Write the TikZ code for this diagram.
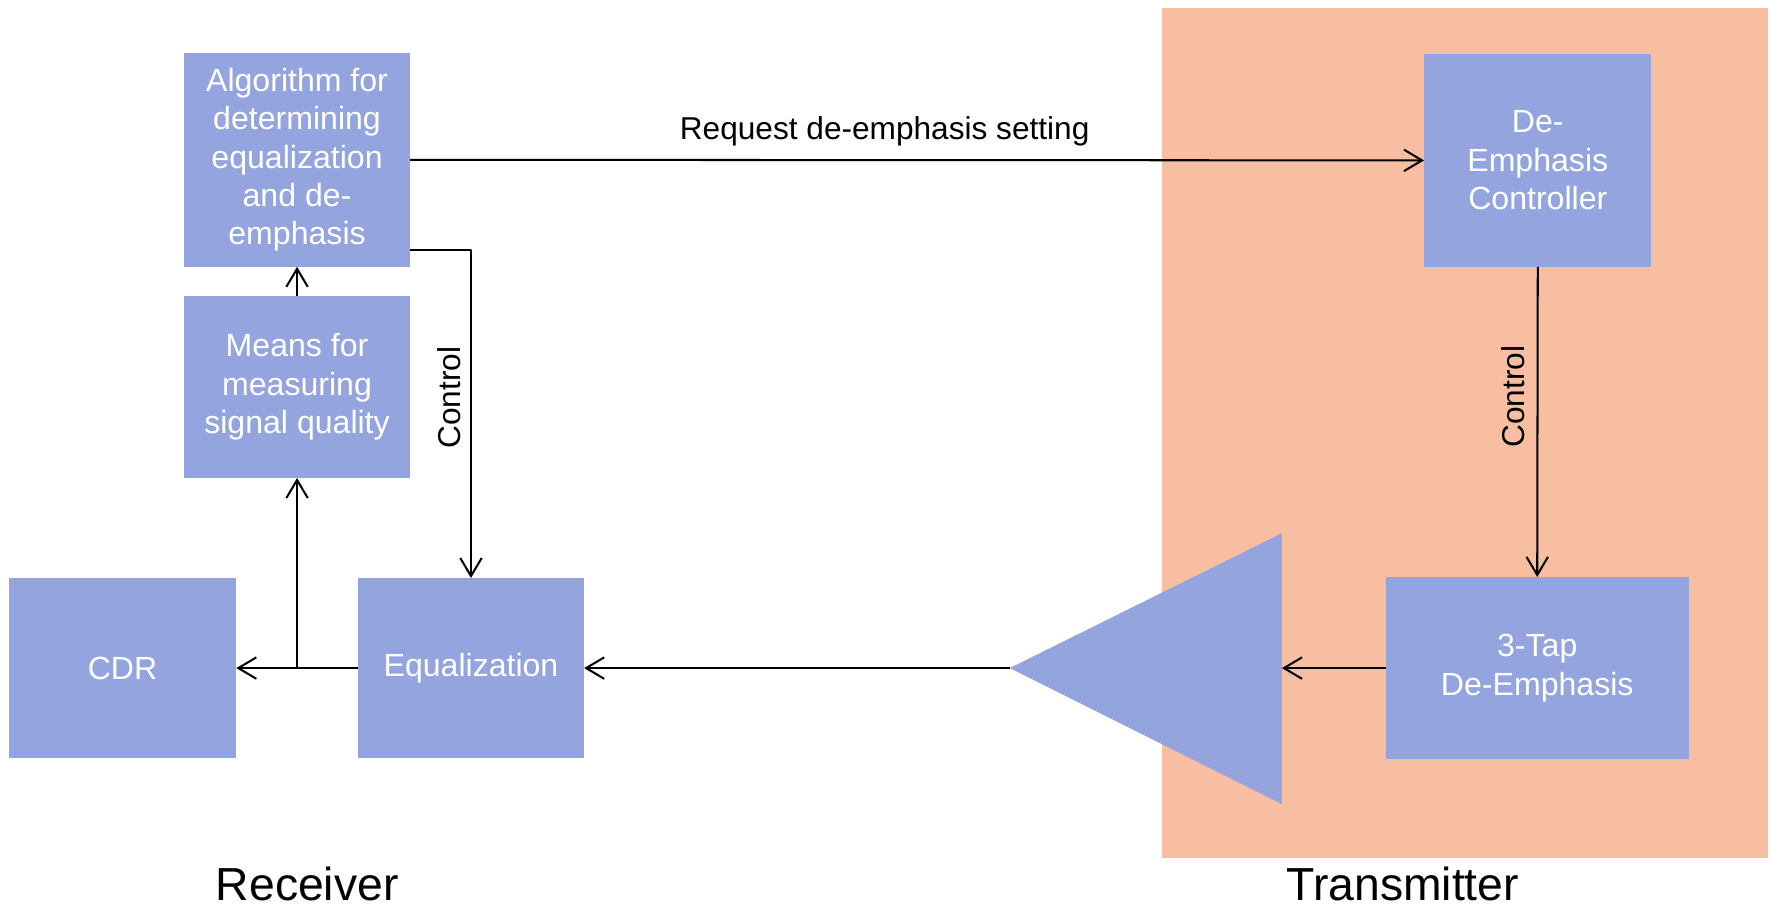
\documentclass[tikz,border=0pt]{standalone}
\usepackage{fontspec}
\setmainfont{Liberation Sans}
\usetikzlibrary{arrows.meta}
\definecolor{blockblue}{RGB}{148,164,222}
\definecolor{txbg}{RGB}{248,190,162}

\begin{document}
\begin{tikzpicture}[x=1pt,y=-1pt,
  block/.style={fill=blockblue, draw=none, text=white, inner sep=0pt, align=center,
                font=\fontsize{28.4}{34}\selectfont},
  wire/.style={line width=1.8pt, line join=round},
  link/.style={wire, -{Straight Barb[length=16pt,width=19pt]}},
  lbl/.style={font=\fontsize{28}{32}\selectfont, inner sep=0pt},
  sidetitle/.style={font=\fontsize{41}{48}\selectfont, inner sep=0pt, anchor=base}]

\useasboundingbox (0,0) rectangle (1568,803);

% transmitter area
\fill[txbg] (1029,7) rectangle (1565,760);

% receiver blocks
\node[block, minimum width=200pt, minimum height=189pt] (alg) at (263,141.5)
  {Algorithm for\\determining\\equalization\\and de-\\emphasis};
\node[block, minimum width=200pt, minimum height=161pt] (meas) at (263,342.5)
  {Means for\\measuring\\signal quality};
\node[block, minimum width=201pt, minimum height=159pt] (cdr) at (108.5,591.5) {CDR};
\node[block, minimum width=200pt, minimum height=159pt] (eq) at (417,591.5) {Equalization};

% transmitter blocks
\node[block, minimum width=201pt, minimum height=188pt] (dec) at (1361.5,142)
  {De-\\Emphasis\\Controller};
\node[block, minimum width=268pt, minimum height=161pt] (tap) at (1361,591.5)
  {3-Tap\\De-Emphasis};

% line driver (triangle pointing left)
\coordinate (ampout) at (894,591.5);
\coordinate (ampin) at (1135,591.5);
\fill[blockblue] (ampout) -- (1135,472) -- (1135,712) -- cycle;

% connectors
\draw[link] (alg.east) -- (dec.west)
  node[lbl, pos=0.468, anchor=base, yshift=18pt] {Request de-emphasis setting};
\draw[link] ([yshift=15pt]alg.south east) -| (eq.north);
\draw[link] (dec.south) -- (tap.north);
\draw[link] (tap.west) -- (ampin);
\draw[link] (ampout) -- (eq.east);
\draw[link] (eq.west) -- (cdr.east);
\coordinate (tap-split) at (meas.south |- eq.west);
\draw[link] (tap-split) -- (meas.south);
\draw[link] (meas.north) -- (alg.south);

% rotated control labels
\node[lbl, rotate=90] (ctlrx) at (398,352) {Control};
\node[lbl, rotate=90] (ctltx) at (1340,351) {Control};

% side titles
\node[sidetitle] (rxtitle) at (272,797) {Receiver};
\node[sidetitle] (txtitle) at (1242,797) {Transmitter};
\end{tikzpicture}
\end{document}
